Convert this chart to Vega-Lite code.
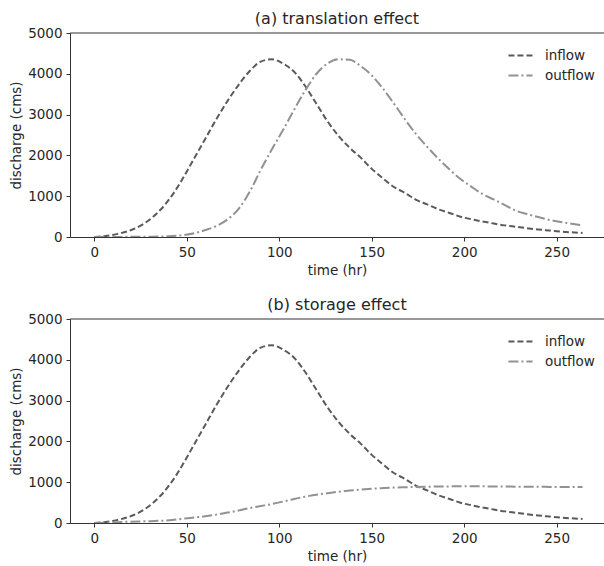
{
  "$schema": "https://vega.github.io/schema/vega-lite/v6.json",
  "background": "white",
  "padding": {"left": 9, "top": 11, "right": 0, "bottom": 0},
  "config": {
    "view": {"stroke": null},
    "font": "DejaVu Sans",
    "axis": {"labelFont": "DejaVu Sans", "labelFontSize": 13.5, "labelColor": "#262626", "titleFont": "DejaVu Sans", "titleFontSize": 13.5, "titleFontWeight": "normal", "titleColor": "#262626", "domainColor": "#333333", "tickColor": "#333333", "tickSize": 4, "grid": false, "labelPadding": 4, "format": "d"},
    "title": {"font": "DejaVu Sans", "fontSize": 16, "fontWeight": "normal", "color": "#262626", "offset": -1},
    "legend": {"labelFont": "DejaVu Sans", "labelFontSize": 13.5, "labelColor": "#262626"}
  },
  "datasets": {
    "translation": [
      {"t": 0, "inflow": 0, "outflow": 0}, {"t": 6, "inflow": 22, "outflow": 0}, {"t": 12, "inflow": 70, "outflow": 2}, {"t": 18, "inflow": 140, "outflow": 4}, {"t": 24, "inflow": 255, "outflow": 6}, {"t": 30, "inflow": 430, "outflow": 8}, {"t": 36, "inflow": 680, "outflow": 12}, {"t": 42, "inflow": 1020, "outflow": 22}, {"t": 48, "inflow": 1450, "outflow": 45}, {"t": 54, "inflow": 1930, "outflow": 90}, {"t": 60, "inflow": 2410, "outflow": 170}, {"t": 66, "inflow": 2890, "outflow": 270}, {"t": 72, "inflow": 3335, "outflow": 430}, {"t": 78, "inflow": 3730, "outflow": 690}, {"t": 84, "inflow": 4070, "outflow": 1110}, {"t": 90, "inflow": 4300, "outflow": 1650}, {"t": 96, "inflow": 4355, "outflow": 2150}, {"t": 102, "inflow": 4250, "outflow": 2620}, {"t": 108, "inflow": 4050, "outflow": 3120}, {"t": 114, "inflow": 3700, "outflow": 3590}, {"t": 120, "inflow": 3270, "outflow": 3995}, {"t": 126, "inflow": 2840, "outflow": 4250}, {"t": 132, "inflow": 2480, "outflow": 4355}, {"t": 138, "inflow": 2190, "outflow": 4345}, {"t": 144, "inflow": 1945, "outflow": 4190}, {"t": 150, "inflow": 1670, "outflow": 3960}, {"t": 156, "inflow": 1440, "outflow": 3640}, {"t": 162, "inflow": 1225, "outflow": 3270}, {"t": 168, "inflow": 1080, "outflow": 2880}, {"t": 174, "inflow": 910, "outflow": 2520}, {"t": 180, "inflow": 800, "outflow": 2210}, {"t": 186, "inflow": 680, "outflow": 1920}, {"t": 192, "inflow": 590, "outflow": 1660}, {"t": 198, "inflow": 495, "outflow": 1420}, {"t": 204, "inflow": 435, "outflow": 1230}, {"t": 210, "inflow": 380, "outflow": 1050}, {"t": 216, "inflow": 330, "outflow": 920}, {"t": 222, "inflow": 285, "outflow": 780}, {"t": 228, "inflow": 250, "outflow": 645}, {"t": 234, "inflow": 215, "outflow": 560}, {"t": 240, "inflow": 185, "outflow": 490}, {"t": 246, "inflow": 160, "outflow": 420}, {"t": 252, "inflow": 135, "outflow": 370}, {"t": 258, "inflow": 115, "outflow": 325}, {"t": 264, "inflow": 100, "outflow": 285}
    ],
    "storage": [
      {"t": 0, "inflow": 0, "outflow": 0}, {"t": 6, "inflow": 22, "outflow": 8}, {"t": 12, "inflow": 70, "outflow": 20}, {"t": 18, "inflow": 140, "outflow": 30}, {"t": 24, "inflow": 255, "outflow": 38}, {"t": 30, "inflow": 430, "outflow": 45}, {"t": 36, "inflow": 680, "outflow": 55}, {"t": 42, "inflow": 1020, "outflow": 72}, {"t": 48, "inflow": 1450, "outflow": 105}, {"t": 54, "inflow": 1930, "outflow": 135}, {"t": 60, "inflow": 2410, "outflow": 165}, {"t": 66, "inflow": 2890, "outflow": 205}, {"t": 72, "inflow": 3335, "outflow": 255}, {"t": 78, "inflow": 3730, "outflow": 305}, {"t": 84, "inflow": 4070, "outflow": 365}, {"t": 90, "inflow": 4300, "outflow": 415}, {"t": 96, "inflow": 4355, "outflow": 465}, {"t": 102, "inflow": 4250, "outflow": 525}, {"t": 108, "inflow": 4050, "outflow": 590}, {"t": 114, "inflow": 3700, "outflow": 645}, {"t": 120, "inflow": 3270, "outflow": 695}, {"t": 126, "inflow": 2840, "outflow": 730}, {"t": 132, "inflow": 2480, "outflow": 765}, {"t": 138, "inflow": 2190, "outflow": 795}, {"t": 144, "inflow": 1945, "outflow": 820}, {"t": 150, "inflow": 1670, "outflow": 840}, {"t": 156, "inflow": 1440, "outflow": 855}, {"t": 162, "inflow": 1225, "outflow": 868}, {"t": 168, "inflow": 1080, "outflow": 876}, {"t": 174, "inflow": 910, "outflow": 883}, {"t": 180, "inflow": 800, "outflow": 889}, {"t": 186, "inflow": 680, "outflow": 894}, {"t": 192, "inflow": 590, "outflow": 897}, {"t": 198, "inflow": 495, "outflow": 899}, {"t": 204, "inflow": 435, "outflow": 899}, {"t": 210, "inflow": 380, "outflow": 898}, {"t": 216, "inflow": 330, "outflow": 896}, {"t": 222, "inflow": 285, "outflow": 894}, {"t": 228, "inflow": 250, "outflow": 891}, {"t": 234, "inflow": 215, "outflow": 889}, {"t": 240, "inflow": 185, "outflow": 887}, {"t": 246, "inflow": 160, "outflow": 885}, {"t": 252, "inflow": 135, "outflow": 883}, {"t": 258, "inflow": 115, "outflow": 881}, {"t": 264, "inflow": 100, "outflow": 880}
    ]
  },
  "spacing": 20,
  "vconcat": [
    {
      "title": "(a) translation effect",
      "width": 534,
      "height": 204,
      "layer": [
        {
          "data": {"name": "translation"},
          "transform": [{"fold": ["inflow", "outflow"], "as": ["series", "q"]}],
          "mark": {"type": "line", "strokeWidth": 2, "clip": true, "interpolate": "monotone"},
          "encoding": {
            "x": {"field": "t", "type": "quantitative", "scale": {"domain": [-13.2, 275.6], "nice": false, "zero": false}, "axis": {"values": [0, 50, 100, 150, 200, 250], "title": "time (hr)", "titlePadding": 5}},
            "y": {"field": "q", "type": "quantitative", "scale": {"domain": [0, 5000], "nice": false}, "axis": {"values": [0, 1000, 2000, 3000, 4000, 5000], "title": "discharge (cms)", "titlePadding": 4}},
            "color": {"field": "series", "type": "nominal", "scale": {"domain": ["inflow", "outflow"], "range": ["#5a5a5a", "#929292"]}, "legend": {"title": null, "orient": "top-right", "offset": 9, "symbolType": "stroke", "symbolSize": 580, "symbolStrokeWidth": 2, "labelOffset": 11, "rowPadding": -4}},
            "strokeDash": {"field": "series", "type": "nominal", "scale": {"domain": ["inflow", "outflow"], "range": [[6, 3], [10, 3, 2, 3]]}, "legend": null}
          }
        },
        {
          "data": {"values": [{"top": 5000}]},
          "mark": {"type": "rule", "color": "#333333", "strokeWidth": 1},
          "encoding": {"y": {"field": "top", "type": "quantitative"}}
        }
      ]
    },
    {
      "title": "(b) storage effect",
      "width": 534,
      "height": 204,
      "layer": [
        {
          "data": {"name": "storage"},
          "transform": [{"fold": ["inflow", "outflow"], "as": ["series", "q"]}],
          "mark": {"type": "line", "strokeWidth": 2, "clip": true, "interpolate": "monotone"},
          "encoding": {
            "x": {"field": "t", "type": "quantitative", "scale": {"domain": [-13.2, 275.6], "nice": false, "zero": false}, "axis": {"values": [0, 50, 100, 150, 200, 250], "title": "time (hr)", "titlePadding": 5}},
            "y": {"field": "q", "type": "quantitative", "scale": {"domain": [0, 5000], "nice": false}, "axis": {"values": [0, 1000, 2000, 3000, 4000, 5000], "title": "discharge (cms)", "titlePadding": 4}},
            "color": {"field": "series", "type": "nominal", "scale": {"domain": ["inflow", "outflow"], "range": ["#5a5a5a", "#929292"]}, "legend": {"title": null, "orient": "top-right", "offset": 9, "symbolType": "stroke", "symbolSize": 580, "symbolStrokeWidth": 2, "labelOffset": 11, "rowPadding": -4}},
            "strokeDash": {"field": "series", "type": "nominal", "scale": {"domain": ["inflow", "outflow"], "range": [[6, 3], [10, 3, 2, 3]]}, "legend": null}
          }
        },
        {
          "data": {"values": [{"top": 5000}]},
          "mark": {"type": "rule", "color": "#333333", "strokeWidth": 1},
          "encoding": {"y": {"field": "top", "type": "quantitative"}}
        }
      ]
    }
  ],
  "resolve": {"scale": {"color": "independent", "strokeDash": "independent"}, "legend": {"color": "independent"}}
}
